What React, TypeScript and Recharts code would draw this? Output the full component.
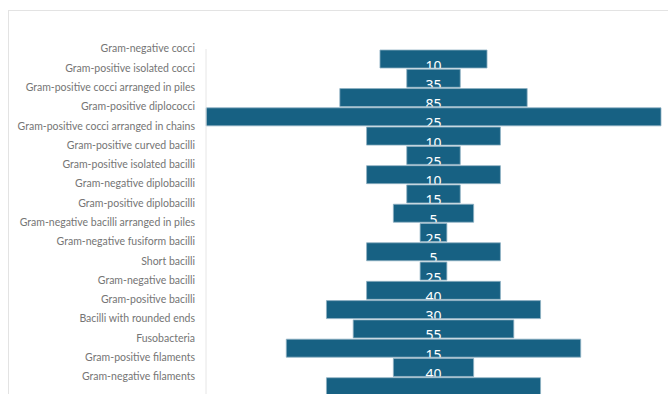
import React from "react";
import { BarChart, Bar, XAxis, YAxis, LabelList } from "recharts";

const categories = [
  "Gram-negative cocci",
  "Gram-positive isolated cocci",
  "Gram-positive cocci arranged in piles",
  "Gram-positive diplococci",
  "Gram-positive cocci arranged in chains",
  "Gram-positive curved bacilli",
  "Gram-positive isolated bacilli",
  "Gram-negative diplobacilli",
  "Gram-positive diplobacilli",
  "Gram-negative bacilli arranged in piles",
  "Gram-negative fusiform bacilli",
  "Short bacilli",
  "Gram-negative bacilli",
  "Gram-positive bacilli",
  "Bacilli with rounded ends",
  "Fusobacteria",
  "Gram-positive filaments",
  "Gram-negative filaments",
];

// bar lengths
const values = [20, 10, 35, 85, 25, 10, 25, 10, 15, 5, 25, 5, 25, 40, 30, 55, 15, 40];

// data label texts shown on each bar (as they appear in the picture)
const labelTexts = ["10", "35", "85", "25", "10", "25", "10", "15", "5", "25", "5", "25", "40", "30", "55", "15", "40", ""];

const maxValue = 85;

const data = categories.map((name, i) => ({
  name,
  offset: (maxValue - values[i]) / 2,
  value: values[i],
  label: labelTexts[i],
}));

const BAND = 19.3;

const Tick = (props: any) => {
  const { x, y, payload } = props;
  return (
    <text
      x={x}
      y={y - BAND / 2 - 0.5}
      textAnchor="end"
      dominantBaseline="central"
      fill="#757575"
      fontSize={10.5}
      fontFamily="Lato, sans-serif"
    >
      {payload.value}
    </text>
  );
};

const ClippedLabel = (props: any) => {
  const { x, y, width, height, value, index } = props;
  const id = `clip-bar-${index}`;
  return (
    <g>
      <defs>
        <clipPath id={id}>
          <rect x={x} y={y} width={width} height={height} />
        </clipPath>
      </defs>
      <text
        x={x + width / 2}
        y={y + height + 2.5}
        textAnchor="middle"
        fill="#ffffff"
        fontSize={14}
        fontFamily="'Noto Sans', sans-serif"
        clipPath={`url(#${id})`}
      >
        {value}
      </text>
    </g>
  );
};

export default function App() {
  return (
    <div
      style={{
        position: "absolute",
        left: 8,
        top: 10,
        width: 690,
        height: 430,
        border: "1px solid #e3e3e3",
        boxSizing: "border-box",
      }}
    >
      <div style={{ position: "absolute", left: 0, top: 0 }}>
        <BarChart
          width={680}
          height={420}
          layout="vertical"
          data={data}
          margin={{ top: 38, right: 28, bottom: 35, left: 0 }}
          barSize={18}
        >
          <XAxis type="number" hide domain={[0, maxValue]} />
          <YAxis
            type="category"
            dataKey="name"
            width={197}
            tickLine={false}
            tickSize={0}
            tickMargin={11}
            axisLine={{ stroke: "#e6e6e6" }}
            tick={<Tick />}
            interval={0}
          />
          <Bar dataKey="offset" stackId="a" fill="transparent" isAnimationActive={false} />
          <Bar
            dataKey="value"
            stackId="a"
            fill="#176183"
            stroke="#8fb1c3"
            strokeWidth={0.8}
            isAnimationActive={false}
          >
            <LabelList dataKey="label" content={<ClippedLabel />} />
          </Bar>
        </BarChart>
      </div>
    </div>
  );
}
